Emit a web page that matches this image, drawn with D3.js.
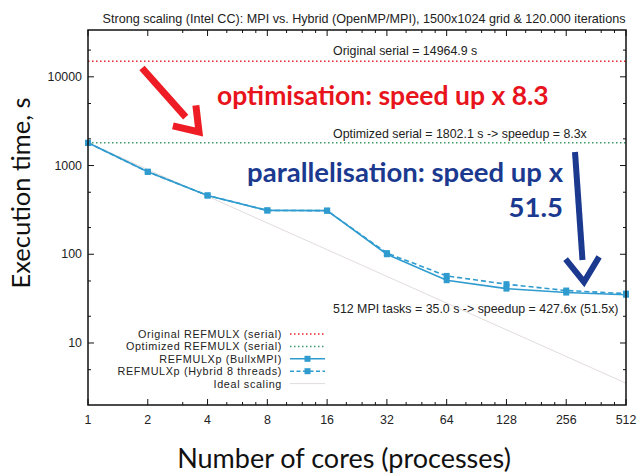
<!DOCTYPE html>
<html>
<head>
<meta charset="utf-8">
<script src="https://cdn.jsdelivr.net/npm/d3@7"></script>
<style>
  body { margin: 0; background: #fff; }
  svg { display: block; }
  .gp { font-family: "Liberation Sans", Arial, sans-serif; fill: #222; }
</style>
</head>
<body>
<svg id="chart"></svg>
<script>
// data
const cores = [1, 2, 4, 8, 16, 32, 64, 128, 256, 512];
const bullxMPI = [1802.1, 850, 460, 312, 310, 100, 51, 41, 37, 35.0];
const hybrid = [1802.1, 850, 460, 312, 310, 103, 57, 46, 39, 36];
const originalSerial = 14964.9;
const optimizedSerial = 1802.1;
const idealCores = [1, 512];
const idealTime = [1802.1, 3.52];

const yTicks = [10, 100, 1000, 10000];
const yMinorTicks = [5, 20, 50, 200, 500, 2000, 5000, 20000];
const xMinorTicks = [3, 5, 6, 7, 10, 12, 14, 20, 24, 28, 40, 48, 56, 80, 96, 112, 160, 192, 224, 320, 384, 448];

const legendLabels = ["Original REFMULX (serial)", "Optimized REFMULX (serial)", "REFMULXp (BullxMPI)", "REFMULXp (Hybrid 8 threads)", "Ideal scaling"];

const width = 638, height = 475;
const plotLeft = 88, plotRight = 626, plotTop = 30, plotBottom = 405;

const red = "#e8262b", green = "#3f9a6a", blue = "#2f9bcf", grey = "#e2dcdc";
const gpSize = "12.4px";

const svg = d3.select("#chart")
    .attr("width", width)
    .attr("height", height);

const x = d3.scaleLog().base(2).domain([1, 512]).range([plotLeft, plotRight]);
const y = d3.scaleLog().domain([2, 33700]).range([plotBottom, plotTop]);

// title
svg.append("text")
    .attr("class", "gp")
    .attr("x", 364).attr("y", 23)
    .attr("text-anchor", "middle")
    .style("font-size", "12.6px")
    .text("Strong scaling (Intel CC): MPI vs. Hybrid (OpenMP/MPI), 1500x1024 grid & 120.000 iterations");

// ticks, inward and mirrored like gnuplot does
const tickG = svg.append("g").attr("stroke", "#111").attr("stroke-width", 1);
function xTick(v, len) {
    tickG.append("line").attr("x1", x(v)).attr("x2", x(v)).attr("y1", plotBottom).attr("y2", plotBottom - len);
    tickG.append("line").attr("x1", x(v)).attr("x2", x(v)).attr("y1", plotTop).attr("y2", plotTop + len);
}
function yTick(v, len) {
    tickG.append("line").attr("y1", y(v)).attr("y2", y(v)).attr("x1", plotLeft).attr("x2", plotLeft + len);
    tickG.append("line").attr("y1", y(v)).attr("y2", y(v)).attr("x1", plotRight).attr("x2", plotRight - len);
}
cores.forEach(v => xTick(v, 6));
xMinorTicks.forEach(v => xTick(v, 3));
yTicks.forEach(v => yTick(v, 6));
yMinorTicks.forEach(v => yTick(v, 3));

// tick labels
svg.append("g").selectAll("text")
    .data(cores)
    .join("text")
        .attr("class", "gp")
        .attr("x", d => x(d))
        .attr("y", plotBottom + 19)
        .attr("text-anchor", "middle")
        .style("font-size", gpSize)
        .text(d => d);

svg.append("g").selectAll("text")
    .data(yTicks)
    .join("text")
        .attr("class", "gp")
        .attr("x", plotLeft - 6)
        .attr("y", d => y(d) + 4)
        .attr("text-anchor", "end")
        .style("font-size", gpSize)
        .text(d => d);

// ideal scaling
const line = d3.line().x(d => x(d[0])).y(d => y(d[1]));
svg.append("path")
    .attr("d", line(d3.zip(idealCores, idealTime)))
    .attr("fill", "none")
    .attr("stroke", grey)
    .attr("stroke-width", 1);

// serial reference lines
svg.append("line")
    .attr("x1", plotLeft).attr("x2", plotRight)
    .attr("y1", y(originalSerial)).attr("y2", y(originalSerial))
    .attr("stroke", red).attr("stroke-width", 1.5)
    .attr("stroke-dasharray", "1.5,2.5");
svg.append("line")
    .attr("x1", plotLeft).attr("x2", plotRight)
    .attr("y1", y(optimizedSerial)).attr("y2", y(optimizedSerial))
    .attr("stroke", green).attr("stroke-width", 1.5)
    .attr("stroke-dasharray", "1.5,2.5");

// measured series
svg.append("path")
    .attr("d", line(d3.zip(cores, hybrid)))
    .attr("fill", "none")
    .attr("stroke", blue).attr("stroke-width", 1.6)
    .attr("stroke-dasharray", "5,3");
svg.append("path")
    .attr("d", line(d3.zip(cores, bullxMPI)))
    .attr("fill", "none")
    .attr("stroke", blue).attr("stroke-width", 1.6);

[hybrid, bullxMPI].forEach(series => {
    svg.append("g").selectAll("rect")
        .data(d3.zip(cores, series))
        .join("rect")
            .attr("x", d => x(d[0]) - 3)
            .attr("y", d => y(d[1]) - 3)
            .attr("width", 6).attr("height", 6)
            .attr("fill", blue);
});

// frame
svg.append("rect")
    .attr("x", plotLeft).attr("y", plotTop)
    .attr("width", plotRight - plotLeft).attr("height", plotBottom - plotTop)
    .attr("fill", "none")
    .attr("stroke", "#111").attr("stroke-width", 1.5);

// gnuplot labels
const labels = [
    { text: "Original serial = 14964.9 s", v: originalSerial, dy: -6 },
    { text: "Optimized serial = 1802.1 s -> speedup = 8.3x", v: optimizedSerial, dy: -5 },
    { text: "512 MPI tasks = 35.0 s -> speedup = 427.6x (51.5x)", v: bullxMPI[9], dy: 18 }
];
svg.append("g").selectAll("text")
    .data(labels)
    .join("text")
        .attr("class", "gp")
        .attr("x", 333)
        .attr("y", d => y(d.v) + d.dy)
        .style("font-size", gpSize)
        .text(d => d.text);

// legend
const legendG = svg.append("g");
const legendRows = legendG.selectAll("g")
    .data(legendLabels)
    .join("g")
        .attr("transform", (d, i) => `translate(0, ${334 + i * 12.4})`);
legendRows.append("text")
    .attr("class", "gp")
    .attr("x", 282).attr("y", 4)
    .attr("text-anchor", "end")
    .style("font-size", "10.8px")
    .style("letter-spacing", "0.65px")
    .text(d => d);
const legendStroke = [red, green, blue, blue, grey];
const legendDash = ["1.5,2.5", "1.5,2.5", null, "4,2.5", null];
legendRows.append("line")
    .attr("x1", 290).attr("x2", 325)
    .attr("y1", 0).attr("y2", 0)
    .attr("stroke", (d, i) => legendStroke[i])
    .attr("stroke-width", (d, i) => i === 4 ? 1 : 1.5)
    .attr("stroke-dasharray", (d, i) => legendDash[i]);
legendRows.filter((d, i) => i === 2 || i === 3)
    .append("rect")
        .attr("x", 304.5).attr("y", -3)
        .attr("width", 6).attr("height", 6)
        .attr("fill", blue);

// big slide annotations
svg.append("text")
    .attr("x", 217).attr("y", 105)
    .style("font-family", "Lato, sans-serif")
    .style("font-weight", "bold")
    .style("font-size", "26.5px")
    .attr("fill", "#e8141c")
    .text("optimisation: speed up x 8.3");

const blueDark = "#1b3a8f";
svg.append("text")
    .attr("x", 563).attr("y", 182)
    .attr("text-anchor", "end")
    .style("font-family", "Lato, sans-serif")
    .style("font-weight", "bold")
    .style("font-size", "27.5px")
    .attr("fill", blueDark)
    .text("parallelisation: speed up x");
svg.append("text")
    .attr("x", 563).attr("y", 217)
    .attr("text-anchor", "end")
    .style("font-family", "Lato, sans-serif")
    .style("font-weight", "bold")
    .style("font-size", "27.5px")
    .attr("fill", blueDark)
    .text("51.5");

// arrows
function arrow(x1, y1, x2, y2, color, w, head) {
    const ang = Math.atan2(y2 - y1, x2 - x1);
    const bx = x2 - head * Math.cos(ang), by = y2 - head * Math.sin(ang);
    svg.append("line")
        .attr("x1", x1).attr("y1", y1).attr("x2", bx + 2 * Math.cos(ang)).attr("y2", by + 2 * Math.sin(ang))
        .attr("stroke", color).attr("stroke-width", w);
    const px = Math.cos(ang + Math.PI / 2), py = Math.sin(ang + Math.PI / 2);
    const hw = head * 0.7;
    svg.append("path")
        .attr("d", `M${bx + px * hw},${by + py * hw} L${x2},${y2} L${bx - px * hw},${by - py * hw}`)
        .attr("fill", "none")
        .attr("stroke", color).attr("stroke-width", w)
        .attr("stroke-linejoin", "miter");
}
arrow(142, 68, 199, 132, "#ee1c24", 7, 22);
arrow(575, 152, 584, 282, blueDark, 6, 24);

// axis titles
svg.append("text")
    .attr("transform", `translate(30, 193) rotate(-90)`)
    .attr("text-anchor", "middle")
    .style("font-family", "Lato, sans-serif")
    .style("font-size", "25.5px")
    .attr("fill", "#111")
    .text("Execution time, s");
svg.append("text")
    .attr("x", 344).attr("y", 468)
    .attr("text-anchor", "middle")
    .style("font-family", "Lato, sans-serif")
    .style("font-size", "27px")
    .attr("fill", "#111")
    .text("Number of cores (processes)");
</script>
</body>
</html>
